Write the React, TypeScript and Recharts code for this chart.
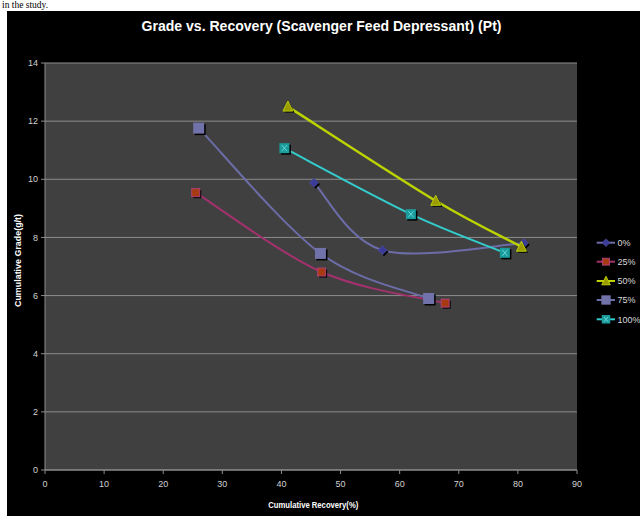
import React from 'react';
import { LineChart, Line, XAxis, YAxis, CartesianGrid } from 'recharts';

const chartTitle = 'Grade vs. Recovery (Scavenger Feed Depressant) (Pt)';
const xAxisTitle = 'Cumulative Recovery(%)';
const yAxisTitle = 'Cumulative Grade(g/t)';
const pageText = 'in the study.';
const seriesNames = ['0%', '25%', '50%', '75%', '100%'];

const recovery0 = [45.5, 57.1, 81.0];
const grade0 = [9.88, 7.56, 7.8];
const recovery25 = [25.5, 46.8, 67.7];
const grade25 = [9.54, 6.81, 5.74];
const recovery50 = [41.1, 66.1, 80.6];
const grade50 = [12.5, 9.26, 7.68];
const recovery75 = [26.0, 46.6, 64.9];
const grade75 = [11.76, 7.45, 5.9];
const recovery100 = [40.5, 61.9, 77.8];
const grade100 = [11.07, 8.8, 7.47];

const xTicks = [0, 10, 20, 30, 40, 50, 60, 70, 80, 90];
const yTicks = [0, 2, 4, 6, 8, 10, 12, 14];

const toRows = (xs: number[], ys: number[]) => xs.map((x, i) => ({ x, y: ys[i] }));

// Excel-like smoothing (Catmull-Rom as cubic Bezier)
const excelSmooth: any = (context: any) => {
  let pts: number[][] = [];
  return {
    areaStart() {},
    areaEnd() {},
    lineStart() { pts = []; },
    point(x: number, y: number) { pts.push([+x, +y]); },
    lineEnd() {
      if (!pts.length) return;
      context.moveTo(pts[0][0], pts[0][1]);
      for (let i = 0; i < pts.length - 1; i++) {
        const p0 = pts[i - 1] || pts[i];
        const p1 = pts[i];
        const p2 = pts[i + 1];
        const p3 = pts[i + 2] || pts[i + 1];
        context.bezierCurveTo(
          p1[0] + (p2[0] - p0[0]) / 6, p1[1] + (p2[1] - p0[1]) / 6,
          p2[0] - (p3[0] - p1[0]) / 6, p2[1] - (p3[1] - p1[1]) / 6,
          p2[0], p2[1]
        );
      }
    },
  };
};

type MarkerKind = 'diamond' | 'square' | 'triangle' | 'bigsquare' | 'xsquare';

function Marker({ kind, cx, cy, shadow = true, scale = 1 }: { kind: MarkerKind; cx: number; cy: number; shadow?: boolean; scale?: number }) {
  const draw = (dx: number, dy: number, isShadow: boolean) => {
    const x = cx + dx;
    const y = cy + dy;
    const k = scale;
    if (kind === 'diamond') {
      const h = 4.5 * k;
      return <polygon points={`${x},${y - h} ${x + h},${y} ${x},${y + h} ${x - h},${y}`} fill={isShadow ? '#000' : '#3B3B98'} stroke={isShadow ? 'none' : '#5252A6'} strokeWidth={0.7} />;
    }
    if (kind === 'square') {
      const h = 4 * k;
      return <rect x={x - h} y={y - h} width={2 * h} height={2 * h} fill={isShadow ? '#000' : '#A83A12'} stroke={isShadow ? 'none' : '#B0407A'} strokeWidth={1} />;
    }
    if (kind === 'triangle') {
      const h = 5 * k;
      return <polygon points={`${x},${y - h * 1.1} ${x + h},${y + h * 0.9} ${x - h},${y + h * 0.9}`} fill={isShadow ? '#000' : '#9C9C00'} stroke={isShadow ? 'none' : '#B9CF00'} strokeWidth={1} />;
    }
    if (kind === 'bigsquare') {
      const h = 5.5 * k;
      return <rect x={x - h} y={y - h} width={2 * h} height={2 * h} fill={isShadow ? '#000' : '#7272AA'} />;
    }
    const h = 5 * k;
    return (
      <g>
        <rect x={x - h} y={y - h} width={2 * h} height={2 * h} fill={isShadow ? '#000' : '#1A9C9C'} />
        {!isShadow && (
          <path d={`M${x - h * 0.5},${y - h * 0.6} L${x + h * 0.5},${y + h * 0.6} M${x + h * 0.5},${y - h * 0.6} L${x - h * 0.5},${y + h * 0.6}`} stroke="#6FDADA" strokeWidth={0.9} />
        )}
      </g>
    );
  };
  return (
    <g>
      {shadow && draw(1.5, 1.5, true)}
      {draw(0, 0, false)}
    </g>
  );
}

const series = [
  { name: seriesNames[0], data: toRows(recovery0, grade0), color: '#6C6CA8', width: 2, marker: 'diamond' as MarkerKind },
  { name: seriesNames[1], data: toRows(recovery25, grade25), color: '#A4316E', width: 2, marker: 'square' as MarkerKind },
  { name: seriesNames[2], data: toRows(recovery50, grade50), color: '#BCD300', width: 2.5, marker: 'triangle' as MarkerKind },
  { name: seriesNames[3], data: toRows(recovery75, grade75), color: '#6C6CA8', width: 2, marker: 'bigsquare' as MarkerKind },
  { name: seriesNames[4], data: toRows(recovery100, grade100), color: '#33CCCC', width: 2, marker: 'xsquare' as MarkerKind },
];

const legendY = [242.7, 261.7, 281, 300, 319.3];

const tickStyle = { fill: '#D0D0D0', fontSize: 9, fontFamily: 'Liberation Sans, Arial, sans-serif' };
const narrow = 'Liberation Sans Narrow, Arial Narrow, Liberation Sans, sans-serif';

export default function App() {
  return (
    <div style={{ position: 'absolute', left: 0, top: 0, width: 640, height: 516, background: '#fff', overflow: 'hidden' }}>
      <div style={{ position: 'absolute', left: 2, top: 0, fontFamily: 'Liberation Serif, Times New Roman, serif', fontSize: 9.5, lineHeight: '11px', color: '#000', whiteSpace: 'nowrap' }}>
        {pageText}
      </div>
      <div style={{ position: 'absolute', left: 7, top: 11, width: 633, height: 505, background: '#000' }}>
        <LineChart width={633} height={505} margin={{ top: 52, right: 63, bottom: 16, left: 0 }}>
          <CartesianGrid fill="#404040" stroke="#8C8C8C" strokeWidth={1} vertical={false} horizontalValues={yTicks} />
          <XAxis
            type="number"
            dataKey="x"
            domain={[0, 90]}
            ticks={xTicks}
            interval={0}
            allowDataOverflow
            height={30}
            tickSize={4}
            tickMargin={7}
            stroke="#8C8C8C"
            tick={tickStyle}
          />
          <YAxis
            type="number"
            dataKey="y"
            domain={[0, 14]}
            ticks={yTicks}
            interval={0}
            allowDataOverflow
            width={38}
            tickSize={4}
            tickMargin={3}
            stroke="#8C8C8C"
            tick={tickStyle}
          />
          {series.map((s) => (
            <Line
              key={s.name}
              name={s.name}
              data={s.data}
              dataKey="y"
              type={excelSmooth}
              stroke={s.color}
              strokeWidth={s.width}
              isAnimationActive={false}
              dot={(p: any) => <Marker key={`${s.name}-${p.index}`} kind={s.marker} cx={p.cx} cy={p.cy} />}
              activeDot={false}
            />
          ))}
        </LineChart>
      </div>
      <svg width={640} height={516} style={{ position: 'absolute', left: 0, top: 0, pointerEvents: 'none' }}>
        <text x={321.5} y={31} textAnchor="middle" fill="#FFFFFF" fontSize={15} fontWeight="bold" fontFamily={narrow} textLength={360} lengthAdjust="spacingAndGlyphs">
          {chartTitle}
        </text>
        <text x={313.3} y={508} textAnchor="middle" fill="#FFFFFF" fontSize={8.5} fontWeight="bold" fontFamily={narrow} textLength={90} lengthAdjust="spacingAndGlyphs">
          {xAxisTitle}
        </text>
        <text transform="translate(21,260.5) rotate(-90)" x={0} y={0} textAnchor="middle" fill="#FFFFFF" fontSize={8.5} fontWeight="bold" fontFamily={narrow} textLength={93} lengthAdjust="spacingAndGlyphs">
          {yAxisTitle}
        </text>
        {series.map((s, i) => (
          <g key={s.name}>
            <line x1={596.7} x2={615} y1={legendY[i]} y2={legendY[i]} stroke={s.color} strokeWidth={2} />
            <Marker kind={s.marker} cx={606} cy={legendY[i]} shadow={false} scale={0.85} />
            <text x={617.5} y={legendY[i] + 3.2} fill="#D9D9D9" fontSize={9} fontFamily="Liberation Sans, Arial, sans-serif">
              {s.name}
            </text>
          </g>
        ))}
      </svg>
    </div>
  );
}
